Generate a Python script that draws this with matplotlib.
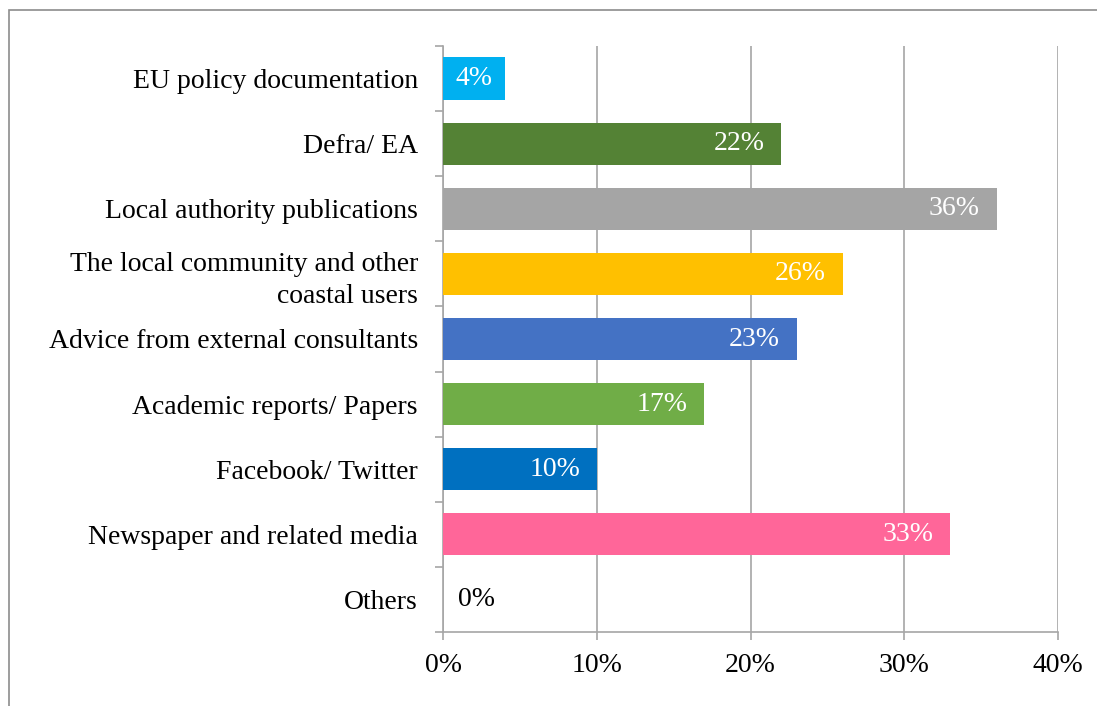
import matplotlib.pyplot as plt
from matplotlib.patches import Rectangle
import numpy as np

plt.rcParams['font.family'] = ['Liberation Serif', 'DejaVu Serif']

categories = ["EU policy documentation", "Defra/ EA", "Local authority publications",
              "The local community and other\ncoastal users", "Advice from external consultants",
              "Academic reports/ Papers", "Facebook/ Twitter", "Newspaper and related media",
              "Others"]
values = [4, 22, 36, 26, 23, 17, 10, 33, 0]
colors = ["#00B0F0", "#548235", "#A5A5A5", "#FFC000", "#4472C4",
          "#70AD47", "#0070C0", "#FF6699", "#FFFFFF"]
x_ticks = [0, 10, 20, 30, 40]

fs = 20
fig = plt.figure(figsize=(10.97, 7.06), dpi=100)
ax = fig.add_axes([443 / 1097, 1 - 632 / 706, 615 / 1097, 586 / 706])

grey = "#A6A6A6"
y = np.arange(len(categories))
ax.barh(y, values, height=0.65, color=colors, zorder=3)

# value labels inside the end of each bar, zero sits outside in black
for yi, v in zip(y, values):
    if v == 0:
        ax.annotate(f"{v}%", (v, yi), xytext=(11, 0), textcoords="offset points",
                    ha="left", va="center", fontsize=fs, color="black", zorder=4)
    elif v < 6:
        ax.text(v / 2, yi, f"{v}%", ha="center", va="center", fontsize=fs,
                color="white", zorder=4)
    else:
        ax.annotate(f"{v}%", (v, yi), xytext=(-12, 0), textcoords="offset points",
                    ha="right", va="center", fontsize=fs, color="white", zorder=4)

ax.set_xlim(0, 40)
ax.set_ylim(len(categories) - 0.5, -0.5)
ax.set_xticks(x_ticks)
ax.set_xticklabels([f"{t}%" for t in x_ticks], fontsize=fs)
ax.set_yticks(y)
ax.set_yticklabels(categories, fontsize=fs, linespacing=1.35)
ax.set_yticks(np.arange(-0.5, len(categories)), minor=True)

ax.tick_params(axis="y", which="major", length=0, pad=18)
ax.tick_params(axis="y", which="minor", length=6, color=grey, width=1.2)
ax.tick_params(axis="x", which="major", length=6, color=grey, width=1.2, pad=9)

ax.grid(axis="x", color=grey, linewidth=1.2, zorder=0)
for side in ["top", "right"]:
    ax.spines[side].set_visible(False)
for side in ["left", "bottom"]:
    ax.spines[side].set_color(grey)
    ax.spines[side].set_linewidth(1.2)

# outer chart border
fig.patches.append(Rectangle((9 / 1097, -0.1), 1.2, 1 - 10 / 706 + 0.1,
                             transform=fig.transFigure, fill=False,
                             edgecolor="#8C8C8C", linewidth=1.2))

fig.savefig("out.png", dpi=100)
